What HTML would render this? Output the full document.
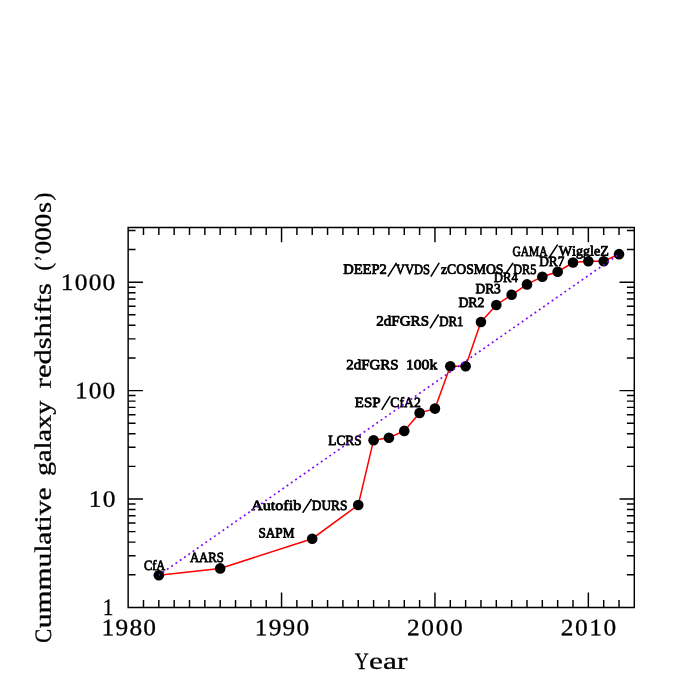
<!DOCTYPE html>
<html><head><meta charset="utf-8"><title>Cumulative galaxy redshifts</title>
<style>html,body{margin:0;padding:0;background:#fff;}svg{display:block;will-change:transform;}text{font-family:"Liberation Serif",serif;fill:#000;font-kerning:none;font-variant-ligatures:none;text-rendering:geometricPrecision;}.t{font-size:23.5px;stroke:#000;stroke-width:0.3px;}.l{font-size:14.1px;stroke:#000;stroke-width:0.8px;stroke-linejoin:round;}</style></head><body>
<svg width="692" height="692" viewBox="0 0 692 692">
<rect width="692" height="692" fill="#fff"/>
<polyline fill="none" stroke="#f00" stroke-width="1.5" points="158.83,575.20 220.19,568.40 312.23,538.70 358.25,505.00 373.59,440.20 388.93,437.80 404.27,430.90 419.61,412.90 434.95,408.60 450.29,366.30 465.63,366.30 480.97,322.00 496.31,305.00 511.65,294.80 526.99,284.40 542.33,276.70 557.67,271.70 573.01,262.50 588.35,261.30 603.69,261.30 619.03,254.15"/>
<circle cx="158.83" cy="575.20" r="5.3" fill="#000"/>
<circle cx="220.19" cy="568.40" r="5.3" fill="#000"/>
<circle cx="312.23" cy="538.70" r="5.3" fill="#000"/>
<circle cx="358.25" cy="505.00" r="5.3" fill="#000"/>
<circle cx="373.59" cy="440.20" r="5.3" fill="#000"/>
<circle cx="388.93" cy="437.80" r="5.3" fill="#000"/>
<circle cx="404.27" cy="430.90" r="5.3" fill="#000"/>
<circle cx="419.61" cy="412.90" r="5.3" fill="#000"/>
<circle cx="434.95" cy="408.60" r="5.3" fill="#000"/>
<circle cx="450.29" cy="366.30" r="5.3" fill="#000"/>
<circle cx="465.63" cy="366.30" r="5.3" fill="#000"/>
<circle cx="480.97" cy="322.00" r="5.3" fill="#000"/>
<circle cx="496.31" cy="305.00" r="5.3" fill="#000"/>
<circle cx="511.65" cy="294.80" r="5.3" fill="#000"/>
<circle cx="526.99" cy="284.40" r="5.3" fill="#000"/>
<circle cx="542.33" cy="276.70" r="5.3" fill="#000"/>
<circle cx="557.67" cy="271.70" r="5.3" fill="#000"/>
<circle cx="573.01" cy="262.50" r="5.3" fill="#000"/>
<circle cx="588.35" cy="261.30" r="5.3" fill="#000"/>
<circle cx="603.69" cy="261.30" r="5.3" fill="#000"/>
<circle cx="619.03" cy="254.15" r="5.3" fill="#000"/>
<path d="M128.15 227.50H634.30V607.40H128.15ZM143.49 607.40v-7.40M143.49 227.50v7.40M158.83 607.40v-7.40M158.83 227.50v7.40M174.17 607.40v-7.40M174.17 227.50v7.40M189.51 607.40v-7.40M189.51 227.50v7.40M204.85 607.40v-7.40M204.85 227.50v7.40M220.19 607.40v-7.40M220.19 227.50v7.40M235.53 607.40v-7.40M235.53 227.50v7.40M250.87 607.40v-7.40M250.87 227.50v7.40M266.21 607.40v-7.40M266.21 227.50v7.40M281.55 607.40v-14.80M281.55 227.50v14.80M296.89 607.40v-7.40M296.89 227.50v7.40M312.23 607.40v-7.40M312.23 227.50v7.40M327.57 607.40v-7.40M327.57 227.50v7.40M342.91 607.40v-7.40M342.91 227.50v7.40M358.25 607.40v-7.40M358.25 227.50v7.40M373.59 607.40v-7.40M373.59 227.50v7.40M388.93 607.40v-7.40M388.93 227.50v7.40M404.27 607.40v-7.40M404.27 227.50v7.40M419.61 607.40v-7.40M419.61 227.50v7.40M434.95 607.40v-14.80M434.95 227.50v14.80M450.29 607.40v-7.40M450.29 227.50v7.40M465.63 607.40v-7.40M465.63 227.50v7.40M480.97 607.40v-7.40M480.97 227.50v7.40M496.31 607.40v-7.40M496.31 227.50v7.40M511.65 607.40v-7.40M511.65 227.50v7.40M526.99 607.40v-7.40M526.99 227.50v7.40M542.33 607.40v-7.40M542.33 227.50v7.40M557.67 607.40v-7.40M557.67 227.50v7.40M573.01 607.40v-7.40M573.01 227.50v7.40M588.35 607.40v-14.80M588.35 227.50v14.80M603.69 607.40v-7.40M603.69 227.50v7.40M619.03 607.40v-7.40M619.03 227.50v7.40M128.15 574.77h7.40M634.30 574.77h-7.40M128.15 555.68h7.40M634.30 555.68h-7.40M128.15 542.14h7.40M634.30 542.14h-7.40M128.15 531.63h7.40M634.30 531.63h-7.40M128.15 523.05h7.40M634.30 523.05h-7.40M128.15 515.79h7.40M634.30 515.79h-7.40M128.15 509.51h7.40M634.30 509.51h-7.40M128.15 503.96h7.40M634.30 503.96h-7.40M128.15 499.00h14.80M634.30 499.00h-14.80M128.15 466.37h7.40M634.30 466.37h-7.40M128.15 447.28h7.40M634.30 447.28h-7.40M128.15 433.74h7.40M634.30 433.74h-7.40M128.15 423.23h7.40M634.30 423.23h-7.40M128.15 414.65h7.40M634.30 414.65h-7.40M128.15 407.39h7.40M634.30 407.39h-7.40M128.15 401.11h7.40M634.30 401.11h-7.40M128.15 395.56h7.40M634.30 395.56h-7.40M128.15 390.60h14.80M634.30 390.60h-14.80M128.15 357.97h7.40M634.30 357.97h-7.40M128.15 338.88h7.40M634.30 338.88h-7.40M128.15 325.34h7.40M634.30 325.34h-7.40M128.15 314.83h7.40M634.30 314.83h-7.40M128.15 306.25h7.40M634.30 306.25h-7.40M128.15 298.99h7.40M634.30 298.99h-7.40M128.15 292.71h7.40M634.30 292.71h-7.40M128.15 287.16h7.40M634.30 287.16h-7.40M128.15 282.20h14.80M634.30 282.20h-14.80M128.15 249.57h7.40M634.30 249.57h-7.40M128.15 230.48h7.40M634.30 230.48h-7.40" fill="none" stroke="#000" stroke-width="1.45"/>
<text class="t" transform="translate(101.52 635.35) rotate(0.03) scale(1.08 1)" textLength="50.46" lengthAdjust="spacing">1980</text>
<text class="t" transform="translate(254.82 635.35) rotate(0.03) scale(1.08 1)" textLength="50.37" lengthAdjust="spacing">1990</text>
<text class="t" transform="translate(406.93 635.35) rotate(0.03) scale(1.08 1)" textLength="51.65" lengthAdjust="spacing">2000</text>
<text class="t" transform="translate(560.63 635.35) rotate(0.03) scale(1.08 1)" textLength="51.56" lengthAdjust="spacing">2010</text>
<text class="t" transform="translate(102.68 615.10) rotate(0.03)" textLength="10.65" lengthAdjust="spacingAndGlyphs">1</text>
<text class="t" transform="translate(88.72 506.70) rotate(0.03) scale(1.08 1)" textLength="24.63" lengthAdjust="spacing">10</text>
<text class="t" transform="translate(75.02 398.30) rotate(0.03) scale(1.08 1)" textLength="37.31" lengthAdjust="spacing">100</text>
<text class="t" transform="translate(60.82 289.90) rotate(0.03) scale(1.08 1)" textLength="50.46" lengthAdjust="spacing">1000</text>
<text class="t" transform="translate(354.83 668.85) rotate(0.03)" textLength="14.01" lengthAdjust="spacingAndGlyphs">Y</text>
<text class="t" transform="translate(369.12 668.85) rotate(0.03)" textLength="38.30" lengthAdjust="spacingAndGlyphs">ear</text>
<text class="t" transform="translate(50.75 642.10) rotate(-90.03)" x="-0.71" y="0" textLength="13.91" lengthAdjust="spacingAndGlyphs">C</text>
<text class="t" transform="translate(50.75 627.90) rotate(-90.03)" x="-0.24" y="0" textLength="140.71" lengthAdjust="spacingAndGlyphs">ummulative</text>
<text class="t" transform="translate(50.75 475.00) rotate(-90.03)" x="-1.07" y="0" textLength="75.43" lengthAdjust="spacingAndGlyphs">galaxy</text>
<text class="t" transform="translate(50.75 387.80) rotate(-90.03)" x="-0.46" y="0" textLength="105.01" lengthAdjust="spacingAndGlyphs">redshifts</text>
<text class="t" transform="translate(50.75 269.70) rotate(-90.03)" x="-0.86" y="0" textLength="7.65" lengthAdjust="spacingAndGlyphs">(</text>
<text class="t" transform="translate(50.75 259.90) rotate(-90.03)" x="-1.50" y="0" textLength="6.26" lengthAdjust="spacingAndGlyphs">&#8217;</text>
<text class="t" transform="translate(50.75 253.30) rotate(-90.03)" x="-0.87" y="0" textLength="40.35" lengthAdjust="spacingAndGlyphs">000</text>
<text class="t" transform="translate(50.75 212.00) rotate(-90.03)" x="-1.02" y="0" textLength="11.10" lengthAdjust="spacingAndGlyphs">s</text>
<text class="t" transform="translate(50.75 199.90) rotate(-90.03)" x="-0.62" y="0" textLength="7.91" lengthAdjust="spacingAndGlyphs">)</text>
<text class="l" transform="translate(143.89 570.00) rotate(0.03)" textLength="21.40" lengthAdjust="spacingAndGlyphs">CfA</text>
<text class="l" transform="translate(189.88 562.10) rotate(0.03)" textLength="34.02" lengthAdjust="spacingAndGlyphs">AARS</text>
<text class="l" transform="translate(258.42 537.40) rotate(0.03)" textLength="35.97" lengthAdjust="spacingAndGlyphs">SAPM</text>
<text class="l" transform="translate(251.24 510.00) rotate(0.03)" textLength="49.97" lengthAdjust="spacingAndGlyphs">Autofib</text>
<text class="l" transform="translate(311.82 510.00) rotate(0.03)" textLength="35.51" lengthAdjust="spacingAndGlyphs">DURS</text>
<text class="l" transform="translate(328.22 445.00) rotate(0.03)" textLength="33.41" lengthAdjust="spacingAndGlyphs">LCRS</text>
<text class="l" transform="translate(354.87 407.10) rotate(0.03)" textLength="25.62" lengthAdjust="spacingAndGlyphs">ESP</text>
<text class="l" transform="translate(390.34 407.10) rotate(0.03)" textLength="30.42" lengthAdjust="spacingAndGlyphs">CfA2</text>
<text class="l" transform="translate(346.14 369.20) rotate(0.03)" textLength="52.49" lengthAdjust="spacingAndGlyphs">2dFGRS</text>
<text class="l" transform="translate(405.93 369.20) rotate(0.03)" textLength="31.27" lengthAdjust="spacingAndGlyphs">100k</text>
<text class="l" transform="translate(376.24 325.50) rotate(0.03)" textLength="52.80" lengthAdjust="spacingAndGlyphs">2dFGRS</text>
<text class="l" transform="translate(439.13 325.50) rotate(0.03)" textLength="24.35" lengthAdjust="spacingAndGlyphs">DR1</text>
<text class="l" transform="translate(458.40 306.90) rotate(0.03)" textLength="26.06" lengthAdjust="spacingAndGlyphs">DR2</text>
<text class="l" transform="translate(475.51 293.20) rotate(0.03)" textLength="25.31" lengthAdjust="spacingAndGlyphs">DR3</text>
<text class="l" transform="translate(493.73 282.20) rotate(0.03)" textLength="24.07" lengthAdjust="spacingAndGlyphs">DR4</text>
<text class="l" transform="translate(343.18 273.80) rotate(0.03)" textLength="43.72" lengthAdjust="spacingAndGlyphs">DEEP2</text>
<text class="l" transform="translate(395.86 273.80) rotate(0.03)" textLength="34.12" lengthAdjust="spacingAndGlyphs">VVDS</text>
<text class="l" transform="translate(441.03 273.80) rotate(0.03)" textLength="62.42" lengthAdjust="spacingAndGlyphs">zCOSMOS</text>
<text class="l" transform="translate(513.15 273.80) rotate(0.03)" textLength="23.23" lengthAdjust="spacingAndGlyphs">DR5</text>
<text class="l" transform="translate(539.22 265.90) rotate(0.03)" textLength="25.17" lengthAdjust="spacingAndGlyphs">DR7</text>
<text class="l" transform="translate(512.53 255.60) rotate(0.03)" textLength="35.05" lengthAdjust="spacingAndGlyphs">GAMA</text>
<text class="l" transform="translate(558.69 255.60) rotate(0.03)" textLength="50.08" lengthAdjust="spacingAndGlyphs">WiggleZ</text>
<path d="M303.00 512.30L311.20 499.50M382.00 409.40L389.90 396.60M430.30 327.80L438.30 315.00M388.20 276.10L396.20 263.30M431.10 276.10L438.90 263.30M504.10 276.10L512.80 263.30M549.00 257.90L557.30 245.10" fill="none" stroke="#000" stroke-width="1.55" stroke-linecap="round"/>
<line x1="158.83" y1="575.20" x2="619.03" y2="254.15" stroke="#7f00ff" stroke-width="1.65" stroke-dasharray="1.9 3.312" stroke-dashoffset="0.45" fill="none"/>
</svg></body></html>
